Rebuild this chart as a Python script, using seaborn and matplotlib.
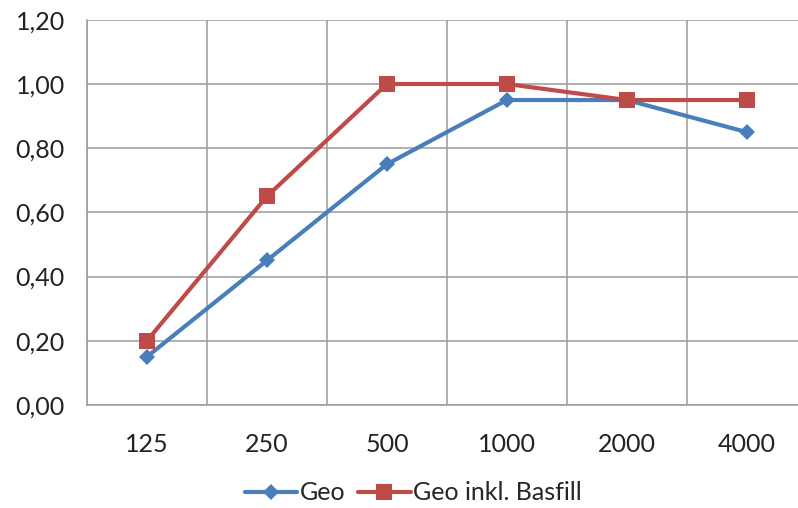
import matplotlib
matplotlib.use("Agg")
import matplotlib.pyplot as plt
import numpy as np
import pandas as pd
import seaborn as sns
from matplotlib.ticker import FixedLocator, FuncFormatter

sns.set_style("white")
plt.rcParams["font.family"] = ["Lato", "DejaVu Sans"]
plt.rcParams["font.size"] = 18

FREQUENCIES = ["125", "250", "500", "1000", "2000", "4000"]
GEO = [0.15, 0.45, 0.75, 0.95, 0.95, 0.85]
GEO_BASFILL = [0.20, 0.65, 1.00, 1.00, 0.95, 0.95]
SERIES_NAMES = ["Geo", "Geo inkl. Basfill"]
Y_TICKS = [0.0, 0.2, 0.4, 0.6, 0.8, 1.0, 1.2]


def build_frame():
    frames = []
    for name, values in zip(SERIES_NAMES, [GEO, GEO_BASFILL]):
        frames.append(pd.DataFrame({"freq": FREQUENCIES, "value": values, "series": name}))
    return pd.concat(frames, ignore_index=True)


def main():
    df = build_frame()
    fig = plt.figure(figsize=(7.98, 5.08), dpi=100)
    ax = fig.add_axes([0.109, 0.203, 0.902, 0.758])

    palette = {"Geo": "#4A7EBB", "Geo inkl. Basfill": "#BE4B48"}
    markers = {"Geo": "D", "Geo inkl. Basfill": "s"}
    sizes = {"D": 8.5, "s": 11}
    sns.lineplot(
        data=df, x="freq", y="value", hue="series", style="series",
        palette=palette, markers=markers, dashes=False, linewidth=3,
        markersize=11, markeredgewidth=0, ax=ax, legend=False, sort=False,
    )
    # diamond a little smaller than the square
    for line in ax.get_lines():
        if line.get_marker() == "D":
            line.set_markersize(sizes["D"])

    n = len(FREQUENCIES)
    ax.set_xlim(-0.5, n - 0.5)
    ax.set_ylim(0, 1.2)
    ax.set_xticks(range(n))
    ax.set_xticklabels(FREQUENCIES)
    ax.xaxis.set_minor_locator(FixedLocator(np.arange(-0.5, n, 1.0)))
    ax.set_yticks(Y_TICKS)
    ax.yaxis.set_major_formatter(FuncFormatter(lambda v, _: f"{v:.2f}".replace(".", ",")))

    ax.grid(False)
    ax.grid(True, axis="y", which="major", color="#9A9A9A", linewidth=1.1)
    ax.grid(True, axis="x", which="minor", color="#9A9A9A", linewidth=1.1)
    ax.set_axisbelow(True)
    for side in ["top", "right"]:
        ax.spines[side].set_visible(False)
    ax.spines["left"].set_color("#9A9A9A")
    ax.spines["bottom"].set_color("#9A9A9A")
    ax.spines["left"].set_linewidth(1.1)
    ax.spines["bottom"].set_linewidth(1.1)

    ax.tick_params(axis="x", which="major", length=0, pad=20, labelsize=18, colors="#222222")
    ax.tick_params(axis="x", which="minor", length=6, width=1.1, color="#9A9A9A", direction="out")
    ax.tick_params(axis="y", length=6, width=1.1, color="#9A9A9A", pad=10, labelsize=18, labelcolor="#222222")
    ax.set_xlabel("")
    ax.set_ylabel("")

    handles = [
        plt.Line2D([], [], color=palette[s], marker=markers[s], linewidth=3,
                   markersize=sizes[markers[s]], markeredgewidth=0)
        for s in SERIES_NAMES
    ]
    fig.legend(handles, SERIES_NAMES, loc="center", bbox_to_anchor=(0.518, 0.03), ncol=2,
               frameon=False, fontsize=18, handlelength=2.1, handletextpad=0.1, columnspacing=0.5)

    fig.savefig("out.png", dpi=100)
    plt.close(fig)


if __name__ == "__main__":
    main()
